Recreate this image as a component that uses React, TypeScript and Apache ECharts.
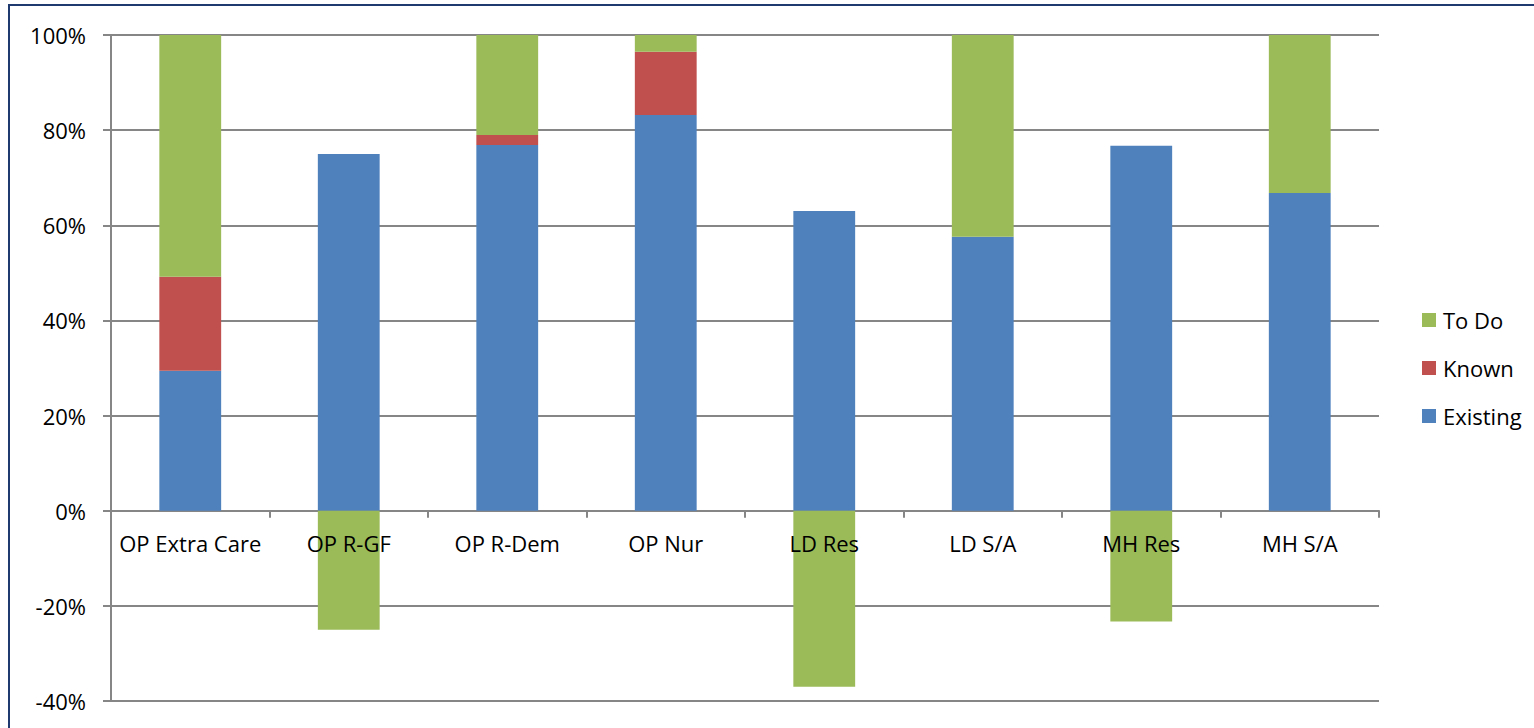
import React, { useEffect, useRef } from "react";
import * as echarts from "echarts";

const categories = ["OP Extra Care", "OP R-GF", "OP R-Dem", "OP Nur", "LD Res", "LD S/A", "MH Res", "MH S/A"];
const existing = [29.4, 75.0, 76.9, 83.2, 63.0, 57.6, 76.7, 66.8];
const known = [19.8, 0, 2.1, 13.3, 0, 0, 0, 0];
const toDo = [50.8, -25.0, 21.0, 3.5, -37.0, 42.4, -23.3, 33.2];
const yTicks = { min: -40, max: 100, interval: 20 };

const FONT = "Open Sans";
const FS = 22;
const GRAY = "#868686";

export default function App() {
  const ref = useRef<HTMLDivElement>(null);
  useEffect(() => {
    if (!ref.current) return;
    const chart = echarts.init(ref.current, null, { renderer: "svg" });
    const mk = (name: string, data: number[], color: string) => ({
      name,
      type: "bar",
      stack: "total",
      data,
      barWidth: "39%",
      xAxisIndex: 0,
      yAxisIndex: 0,
      itemStyle: { color },
    });
    chart.setOption({
      animation: false,
      backgroundColor: "#ffffff",
      textStyle: { fontFamily: FONT },
      grid: [
        { left: 111, right: 155, top: 35, bottom: 27, containLabel: false, outerBoundsMode: "none" },
        { left: 111, right: 155, top: 35, bottom: 217, containLabel: false, outerBoundsMode: "none" },
      ],
      legend: {
        orient: "vertical",
        left: 1422,
        top: 309,
        padding: 0,
        itemWidth: 14,
        itemHeight: 14,
        itemGap: 26,
        icon: "rect",
        data: ["To Do", "Known", "Existing"],
        textStyle: { fontSize: FS, color: "#000", fontFamily: FONT, padding: [0, 0, 0, 2] },
      },
      xAxis: [
        {
          type: "category",
          gridIndex: 0,
          data: categories,
          axisLine: { onZero: true, lineStyle: { color: GRAY, width: 2 } },
          axisTick: { show: true, length: 7, lineStyle: { color: GRAY, width: 2 } },
          axisLabel: { show: false },
          splitLine: { show: false },
        },
        {
          type: "category",
          gridIndex: 1,
          z: 20,
          data: categories,
          axisLine: { show: false },
          axisTick: { show: false },
          axisLabel: { fontSize: FS, color: "#000", margin: 21, fontFamily: FONT, interval: 0 },
          splitLine: { show: false },
        },
      ],
      yAxis: [
        {
          type: "value",
          gridIndex: 0,
          min: yTicks.min,
          max: yTicks.max,
          interval: yTicks.interval,
          axisLine: { show: true, lineStyle: { color: GRAY, width: 2 } },
          axisTick: { show: true, length: 8, lineStyle: { color: GRAY, width: 2 } },
          axisLabel: { fontSize: FS, color: "#000", margin: 25, fontFamily: FONT, formatter: "{value}%" },
          splitLine: { show: true, lineStyle: { color: GRAY, width: 2 } },
        },
        {
          type: "value",
          gridIndex: 1,
          show: false,
        },
      ],
      series: [
        mk("Existing", existing, "#4F81BD"),
        mk("Known", known, "#C0504D"),
        mk("To Do", toDo, "#9BBB59"),
      ],
      graphic: [
        {
          type: "rect",
          shape: { x: 9, y: 5, width: 1540, height: 760 },
          style: { fill: "none", stroke: "#1F3A6E", lineWidth: 2 },
          silent: true,
          z: 100,
        },
      ],
    });
    return () => chart.dispose();
  }, []);
  return (
    <div
      ref={ref}
      style={{ position: "fixed", left: 0, top: 0, width: 1534, height: 728, background: "#fff" }}
    />
  );
}
